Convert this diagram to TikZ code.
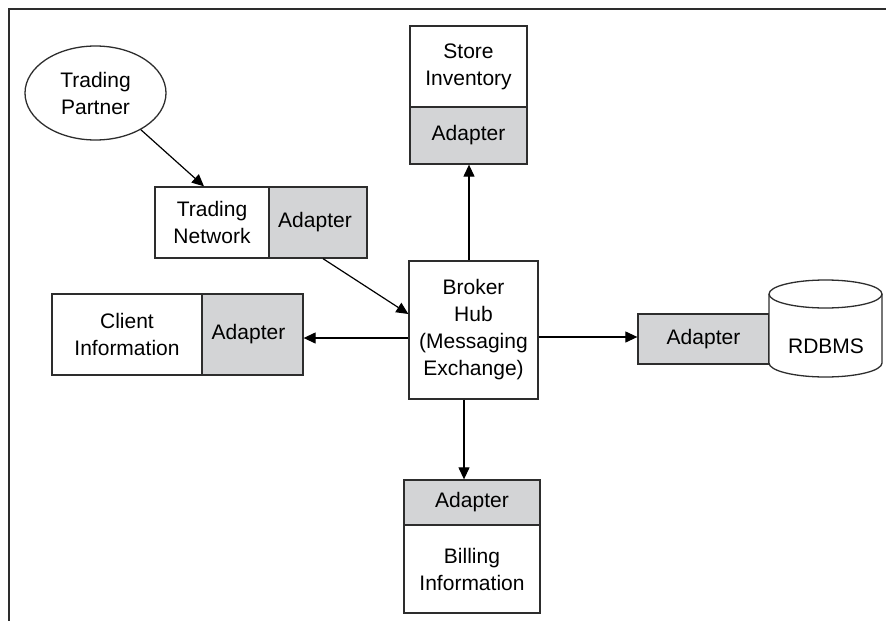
\documentclass[tikz,border=0pt]{standalone}
\usepackage{fontspec}
\setmainfont{Liberation Sans}
\usetikzlibrary{shapes.geometric,arrows.meta}
\definecolor{adgray}{RGB}{211,212,214}
\definecolor{ln}{RGB}{45,45,45}
\begin{document}
\begin{tikzpicture}[x=1pt,y=-1pt,
  box/.style={draw=ln,line width=1.3pt,rectangle,inner sep=0pt,align=center,font=\fontsize{21}{27}\selectfont},
  adbox/.style={box,fill=adgray},
  arr/.style={draw=black,line width=1.2pt,-{Triangle[length=12pt,width=11pt]}},
  lbl/.style={inner sep=0pt,align=center,font=\fontsize{21}{27}\selectfont}]
\useasboundingbox (0,0) rectangle (886,621);
\draw[ln,line width=1.3pt] (886,9) -- (9,9) -- (9,621);
% Trading partner
\node[box,ellipse,minimum width=141pt,minimum height=94pt] (tp) at (95.5,93) {Trading\\Partner};
% Trading network
\node[box,minimum width=114pt,minimum height=71pt] (tn) at (212,222.5) {Trading\\Network};
\node[adbox,minimum width=98pt,minimum height=71pt] (tna) at (318,222.5) {Adapter\hspace{6pt}};
% Store inventory
\node[box,minimum width=117pt,minimum height=81pt] (si) at (468.5,66.5) {Store\\Inventory};
\node[adbox,minimum width=117pt,minimum height=57pt] (sia) at (468.5,135.5) {Adapter};
% Broker hub
\node[box,minimum width=129pt,minimum height=138pt] (br) at (473.5,330) {Broker\\Hub\\(Messaging\\Exchange)};
% Client information
\node[box,minimum width=150pt,minimum height=81pt] (ci) at (127,334.5) {Client\\Information};
\node[adbox,minimum width=101pt,minimum height=81pt] (cia) at (252.5,334.5) {Adapter\hspace{8pt}\raisebox{3pt}{}};
% RDBMS
\node[adbox,minimum width=131pt,minimum height=50pt] (ra) at (703.5,339) {Adapter};
\draw[ln,line width=1.3pt,fill=white] (769,294) -- (769,363) arc[start angle=180,end angle=360,x radius=56.5pt,y radius=14pt] -- (882,294);
\draw[ln,line width=1.3pt,fill=white] (825.5,294) ellipse[x radius=56.5pt,y radius=14pt];
\node[lbl] (db) at (826,346) {RDBMS};
% Billing
\node[adbox,minimum width=136pt,minimum height=45pt] (ba) at (472,502.5) {Adapter};
\node[box,minimum width=136pt,minimum height=88pt] (bi) at (472,569) {Billing\\Information};
% connectors
\draw[arr] (tp.-39) -- ([xshift=-8pt]tn.north);
\draw[arr] ([xshift=5pt]tna.south) -- ([yshift=16pt]br.west);
\draw[arr] ([xshift=-4.5pt]br.north) -- ([xshift=-4.5pt]br.north |- sia.south);
\draw[arr] ([yshift=-8pt]br.west) -- ([yshift=-8pt]br.west -| cia.east);
\draw[arr] ([yshift=-7pt]br.east) -- ([yshift=-7pt]br.east -| ra.west);
\draw[arr] ([xshift=-9.5pt]br.south) -- ([xshift=-9.5pt]br.south |- ba.north);
\end{tikzpicture}
\end{document}
